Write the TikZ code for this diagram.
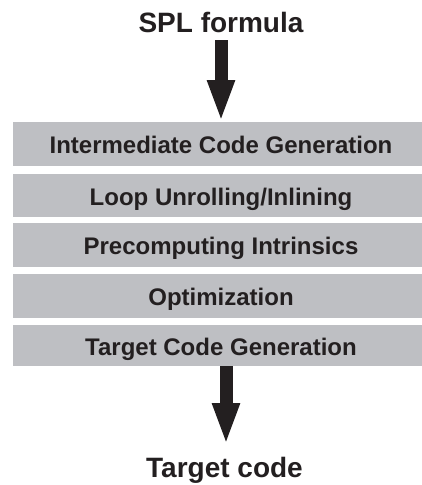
\documentclass[tikz,border=0pt]{standalone}
\usepackage{fontspec}
\setmainfont{Liberation Sans}
\usetikzlibrary{arrows.meta}
\definecolor{boxgray}{HTML}{BEBFC3}
\definecolor{ink}{HTML}{231F20}
\begin{document}
\begin{tikzpicture}[x=1pt,y=-1pt,
  stage/.style={fill=boxgray,draw=none,inner sep=0pt,minimum width=409.5pt,anchor=north west},
  stagetext/.style={anchor=base,inner sep=0pt,text=ink,font=\fontsize{24}{28}\selectfont\bfseries},
  titletext/.style={anchor=base,inner sep=0pt,text=ink,font=\fontsize{28}{32}\selectfont\bfseries},
  flow/.style={draw=ink,line width=13pt,-{Triangle[width=25pt,length=42pt]}}]
\useasboundingbox (0,0) rectangle (422,485);
% stages
\node[stage,minimum height=44pt] (b1) at (12.5,122) {};
\node[stage,minimum height=43pt] (b2) at (12.5,174) {};
\node[stage,minimum height=44pt] (b3) at (12.5,223) {};
\node[stage,minimum height=44pt] (b4) at (12.5,274) {};
\node[stage,minimum height=41pt] (b5) at (12.5,325) {};
\node[stagetext] (s1) at (221,153.5) {Intermediate Code Generation};
\node[stagetext] (s2) at (221,205) {Loop Unrolling/Inlining};
\node[stagetext] (s3) at (221,254.5) {Precomputing Intrinsics};
\node[stagetext] (s4) at (221,305.5) {Optimization};
\node[stagetext] (s5) at (221,355) {Target Code Generation};
\node[titletext] (in) at (221,32) {SPL formula};
\node[titletext] (out) at (224.5,477) {Target code};
% arrows
\coordinate (a1top) at (221,40);
\coordinate (a2tip) at (226,445);
\draw[flow] (a1top) -- (b1.north -| a1top);
\draw[flow] (b5.south -| a2tip) -- (a2tip);
\end{tikzpicture}
\end{document}
